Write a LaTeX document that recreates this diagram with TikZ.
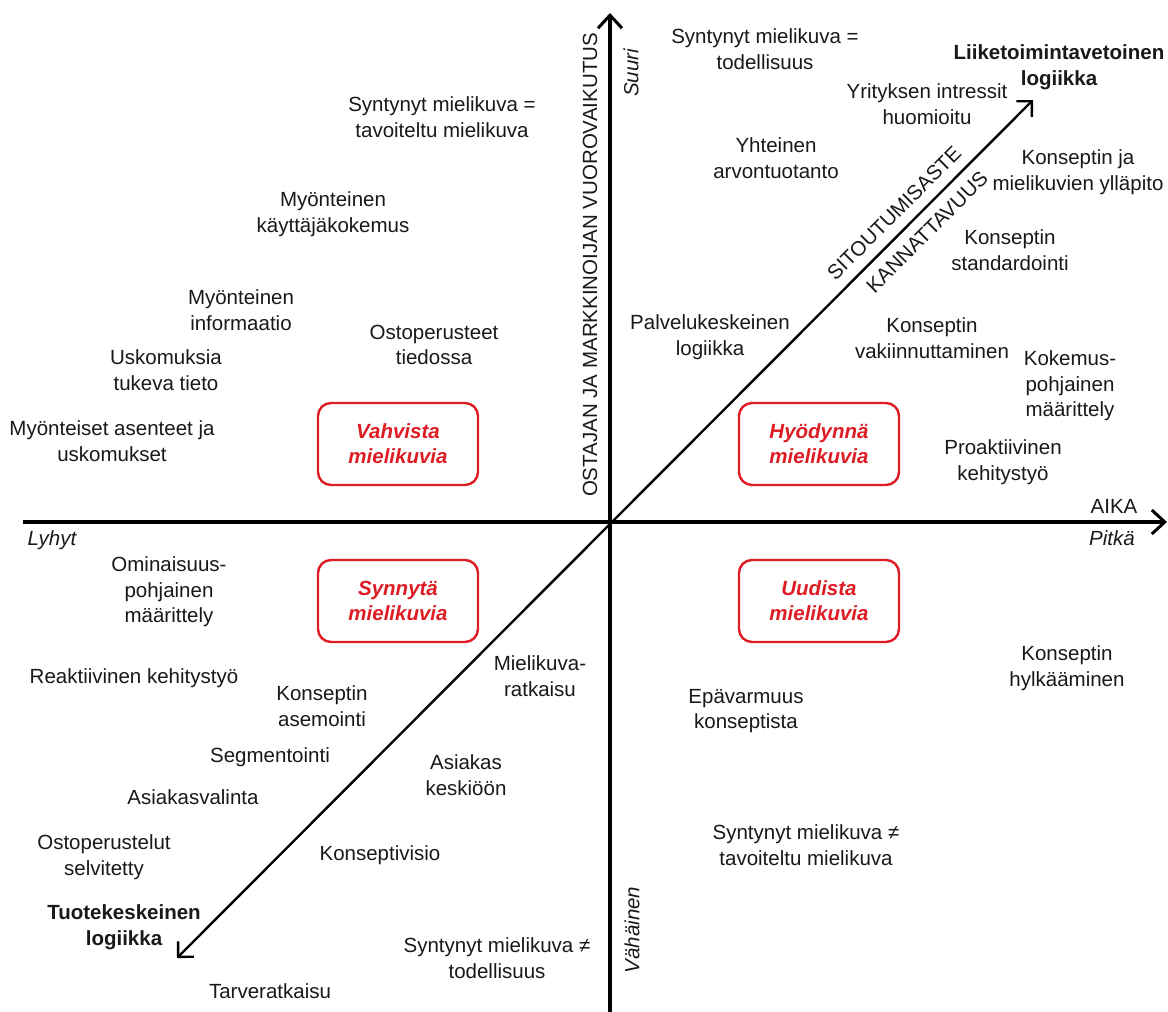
\documentclass[tikz,border=0pt]{standalone}
\usepackage{fontspec}
\setmainfont{Liberation Sans}
\usetikzlibrary{arrows.meta}
\definecolor{boxred}{RGB}{222,28,36}
\definecolor{txt}{RGB}{25,25,25}
\begin{document}
\begin{tikzpicture}[x=1pt,y=-1pt,
  lbl/.style={inner sep=0pt,align=center,text=txt,font=\fontsize{20.5}{25.5}\selectfont},
  blbl/.style={lbl,font=\fontsize{20.5}{26}\selectfont\bfseries},
  ilbl/.style={lbl,font=\fontsize{20.5}{25}\selectfont\itshape},
  redbox/.style={draw=boxred,line width=2.4pt,rounded corners=13pt,minimum width=160pt,minimum height=82pt,align=center,text=boxred,font=\fontsize{20.5}{25}\selectfont\bfseries\itshape},
  axis/.style={line width=4.2pt,-{Straight Barb[length=13pt,width=24pt,line width=3pt]}},
  diag/.style={line width=2.4pt,{Straight Barb[length=11pt,width=22pt,line width=2.4pt]}-{Straight Barb[length=11pt,width=22pt,line width=2.4pt]}}
]
\useasboundingbox (0,0) rectangle (1168,1012);
\fill[white] (0,0) rectangle (1168,1012);

% axes
\coordinate (xl) at (23,522);
\coordinate (xr) at (1167,522);
\coordinate (yb) at (610,1012);
\coordinate (yt) at (610,13);
\coordinate (dl) at (177,958);
\coordinate (dr) at (1033,100);
\draw[axis] (xl) -- (xr);
\draw[axis] (yb) -- (yt);
\draw[diag] (dl) -- (dr);

% axis labels
\node[lbl,rotate=90] (yax) at (590,265) {OSTAJAN JA MARKKINOIJAN VUOROVAIKUTUS};
\node[ilbl,rotate=90] (suuri) at (631,73) {Suuri};
\node[ilbl,rotate=90] (vahainen) at (632,930) {Vähäinen};
\node[ilbl] (lyhyt) at (52,540) {Lyhyt};
\node[ilbl] (pitka) at (1112,538) {Pitkä};
\node[lbl] (aika) at (1114,506) {AIKA};
\node[lbl,rotate=45] (sit) at (894,213) {SITOUTUMISASTE};
\node[lbl,rotate=45] (kan) at (927,232) {KANNATTAVUUS};

% red boxes
\node[redbox] (vahvista) at (398,444) {Vahvista\\mielikuvia};
\node[redbox] (synnyta) at (398,601) {Synnytä\\mielikuvia};
\node[redbox] (hyodynna) at (819,444) {Hyödynnä\\mielikuvia};
\node[redbox] (uudista) at (819,601) {Uudista\\mielikuvia};

% upper left
\node[lbl] (a1) at (442,117) {Syntynyt mielikuva =\\tavoiteltu mielikuva};
\node[lbl] (a2) at (333,214) {Myönteinen\\käyttäjäkokemus};
\node[lbl] (a3) at (241,310) {Myönteinen\\informaatio};
\node[lbl] (a4) at (434,345) {Ostoperusteet\\tiedossa};
\node[lbl] (a5) at (166,370) {Uskomuksia\\tukeva tieto};
\node[lbl] (a6) at (112,441) {Myönteiset asenteet ja\\uskomukset};

% upper right
\node[lbl] (b1) at (765,49) {Syntynyt mielikuva =\\todellisuus};
\node[blbl] (b2) at (1059,67) {Liiketoimintavetoinen\\logiikka};
\node[lbl] (b3) at (927,104) {Yrityksen intressit\\huomioitu};
\node[lbl] (b4) at (776,158) {Yhteinen\\arvontuotanto};
\node[lbl] (b5) at (1078,172) {Konseptin ja\\mielikuvien ylläpito};
\node[lbl] (b6) at (1010,250) {Konseptin\\standardointi};
\node[lbl] (b7) at (710,337) {Palvelukeskeinen\\logiikka};
\node[lbl] (b8) at (932,338) {Konseptin\\vakiinnuttaminen};
\node[lbl] (b9) at (1070,386) {Kokemus-\\pohjainen\\määrittely};
\node[lbl] (b10) at (1003,462) {Proaktiivinen\\kehitystyö};

% lower left
\node[lbl] (c1) at (169,592) {Ominaisuus-\\pohjainen\\määrittely};
\node[lbl] (c2) at (134,678) {Reaktiivinen kehitystyö};
\node[lbl] (c3) at (322,706) {Konseptin\\asemointi};
\node[lbl] (c4) at (270,757) {Segmentointi};
\node[lbl] (c5) at (193,797) {Asiakasvalinta};
\node[lbl] (c6) at (104,857) {Ostoperustelut\\selvitetty};
\node[blbl] (c7) at (124,927) {Tuotekeskeinen\\logiikka};
\node[lbl] (c8) at (270,991) {Tarveratkaisu};
\node[lbl] (c9) at (380,855) {Konseptivisio};
\node[lbl] (c10) at (466,775) {Asiakas\\keskiöön};
\node[lbl] (c11) at (540,676) {Mielikuva-\\ratkaisu};
\node[lbl] (c12) at (497,958) {Syntynyt mielikuva ≠\\todellisuus};

% lower right
\node[lbl] (d1) at (746,711) {Epävarmuus\\konseptista};
\node[lbl] (d2) at (1067,668) {Konseptin\\hylkääminen};
\node[lbl] (d3) at (806,845) {Syntynyt mielikuva ≠\\tavoiteltu mielikuva};
\end{tikzpicture}
\end{document}
